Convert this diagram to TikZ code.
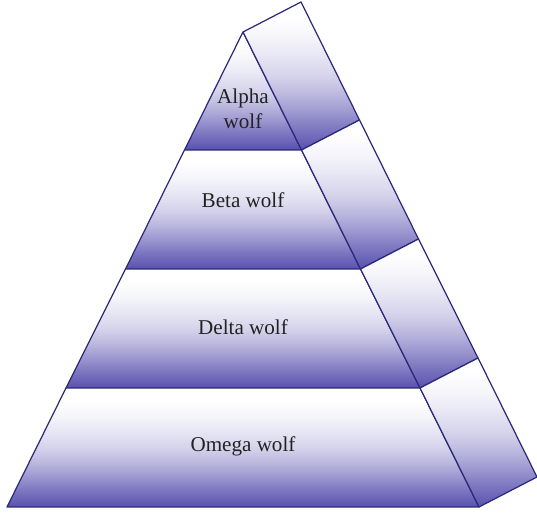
\documentclass[tikz,border=0pt]{standalone}
\usepackage{fontspec}
\setmainfont{Liberation Serif}
\definecolor{wolfdark}{HTML}{5850AF}
\definecolor{wolfline}{HTML}{2B2A7A}
\definecolor{wolftext}{HTML}{222222}
\pgfdeclareverticalshading{wolfshade}{100bp}{color(0bp)=(wolfdark); color(25bp)=(wolfdark);
  color(28bp)=(wolfdark!90!white); color(33bp)=(wolfdark!75!white); color(38bp)=(wolfdark!58!white);
  color(44bp)=(wolfdark!40!white); color(50bp)=(wolfdark!25!white); color(57bp)=(wolfdark!14!white);
  color(64bp)=(wolfdark!5!white); color(70bp)=(white); color(100bp)=(white)}

\begin{document}
\begin{tikzpicture}[x=0.02cm,y=0.02cm,
  tier/.style={shade, shading=wolfshade, draw=wolfline, line width=0.7pt, line join=round},
  tiertext/.style={font=\fontsize{12}{14.2}\selectfont, text=wolftext, inner sep=0pt}]
  \useasboundingbox (0,0) rectangle (537,513);

  % front corners
  \coordinate (apex) at (243,481);
  \coordinate (l1) at (184.5,363); \coordinate (r1) at (301.5,363);
  \coordinate (l2) at (125.5,244); \coordinate (r2) at (360.5,244);
  \coordinate (l3) at (66,125);    \coordinate (r3) at (420,125);
  \coordinate (l4) at (7,6);       \coordinate (r4) at (479,6);
  % back corners of the side
  \coordinate (b0) at (301,511);
  \coordinate (b1) at (359.5,393);
  \coordinate (b2) at (418.5,274);
  \coordinate (b3) at (478,155);
  \coordinate (b4) at (537,36);

  % Alpha tier
  \path[tier] (apex) -- (r1) -- (l1) -- cycle;
  \path[tier] (apex) -- (b0) -- (b1) -- (r1) -- cycle;
  \node[tiertext, align=center] (alpha) at (243,404) {Alpha\\wolf};

  % Beta tier
  \path[tier] (l1) -- (r1) -- (r2) -- (l2) -- cycle;
  \path[tier] (r1) -- (b1) -- (b2) -- (r2) -- cycle;
  \node[tiertext, anchor=base] (beta) at (243,305) {Beta wolf};

  % Delta tier
  \path[tier] (l2) -- (r2) -- (r3) -- (l3) -- cycle;
  \path[tier] (r2) -- (b2) -- (b3) -- (r3) -- cycle;
  \node[tiertext, anchor=base] (delta) at (243,178) {Delta wolf};

  % Omega tier
  \path[tier] (l3) -- (r3) -- (r4) -- (l4) -- cycle;
  \path[tier] (r3) -- (b3) -- (b4) -- (r4) -- cycle;
  \node[tiertext, anchor=base] (omega) at (243,61) {Omega wolf};
\end{tikzpicture}
\end{document}
